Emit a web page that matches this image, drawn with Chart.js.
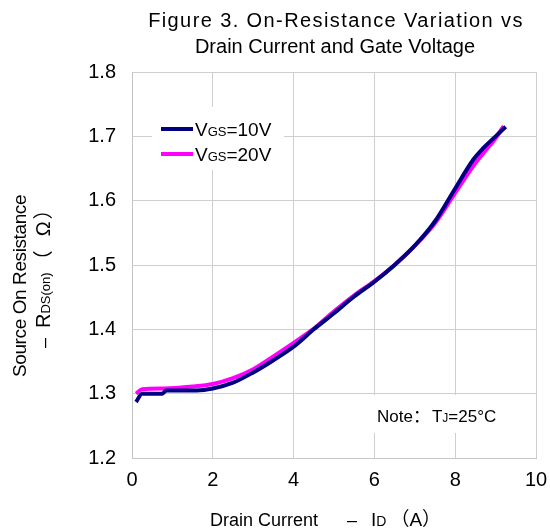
<!DOCTYPE html>
<html>
<head>
<meta charset="utf-8">
<script src="https://cdn.jsdelivr.net/npm/chart.js@4"></script>
<style>
  html, body { margin: 0; padding: 0; background: #fff; }
  #chart { display: block; }
</style>
</head>
<body>
<canvas id="chart" width="550" height="530"></canvas>
<script>
// VGS = 10V curve (drain current A, resistance ohm)
let current10 = [0.1, 0.25, 0.75, 0.85, 1.2, 1.6, 2.0, 2.5, 3.0, 3.5, 4.0, 4.5, 5.0, 5.5, 6.0, 6.5, 7.0, 7.5, 8.0, 8.45, 8.7, 9.0, 9.25];
let rds10 = [1.287, 1.300, 1.300, 1.305, 1.305, 1.305, 1.308, 1.317, 1.333, 1.352, 1.373, 1.400, 1.425, 1.451, 1.474, 1.500, 1.530, 1.568, 1.619, 1.664, 1.682, 1.700, 1.715];

// VGS = 20V curve
let current20 = [0.1, 0.25, 0.8, 1.5, 2.0, 2.5, 3.0, 3.5, 4.0, 4.5, 5.0, 5.5, 6.0, 6.5, 7.0, 7.5, 8.0, 8.45, 8.7, 9.0, 9.2];
let rds20 = [1.300, 1.307, 1.308, 1.311, 1.315, 1.324, 1.338, 1.358, 1.379, 1.401, 1.428, 1.453, 1.475, 1.500, 1.530, 1.565, 1.612, 1.654, 1.674, 1.697, 1.716];

let legendNames = [["V", "GS", "=10V"], ["V", "GS", "=20V"]];
let colors = ["#000080", "#ff00ff"];

const FONT = 'Arial, "Liberation Sans", "Noto Sans CJK SC", sans-serif';

function pts(xs, ys) {
    return xs.map((x, i) => ({ x: x, y: ys[i] }));
}

// draws pieces of text with different sizes on one baseline, a number is a gap
function drawRuns(ctx, runs, x, y, align) {
    let w = 0;
    runs.forEach(r => {
        if (typeof r === "number") { w += r; return; }
        ctx.font = r[1] + "px " + FONT;
        w += ctx.measureText(r[0]).width;
    });
    let cx = align === "center" ? x - w / 2 : x;
    runs.forEach(r => {
        if (typeof r === "number") { cx += r; return; }
        ctx.font = r[1] + "px " + FONT;
        ctx.fillText(r[0], cx, y);
        cx += ctx.measureText(r[0]).width;
    });
}

const extras = {
    id: "extras",
    beforeDatasetsDraw(chart) {
        let ctx = chart.ctx;
        ctx.save();
        ctx.fillStyle = "#fff";
        ctx.fillRect(152, 107, 132, 63);
        ctx.fillRect(366, 395, 164, 38);
        ctx.restore();
    },
    afterDraw(chart) {
        let ctx = chart.ctx;
        ctx.save();
        ctx.fillStyle = "#000";
        ctx.textBaseline = "alphabetic";
        ctx.textAlign = "left";

        // title
        ctx.letterSpacing = "1.4px";
        drawRuns(ctx, [["Figure 3. On-Resistance Variation vs", 20]], 336, 27, "center");
        ctx.letterSpacing = "0px";
        drawRuns(ctx, [["Drain Current and Gate Voltage", 20]], 335, 53, "center");

        // legend
        legendNames.forEach((n, i) => {
            let y = 129 + i * 25;
            ctx.strokeStyle = colors[i];
            ctx.lineWidth = 4;
            ctx.beginPath();
            ctx.moveTo(161, y);
            ctx.lineTo(193, y);
            ctx.stroke();
            drawRuns(ctx, [[n[0], 19], [n[1], 13], [n[2], 19]], 195, y + 7, "left");
        });

        // note
        drawRuns(ctx, [["Note", 17], ["：", 17], 2, ["T", 17], ["J", 12], ["=25°C", 17]], 377, 422, "left");

        // x axis title
        drawRuns(ctx, [["Drain Current", 18], 29, ["–", 18], 14, ["I", 19], ["D", 14], 4, ["（", 19], ["A", 19], ["）", 19]], 210, 526, "left");

        // y axis title
        ctx.save();
        ctx.translate(26, 377);
        ctx.rotate(-Math.PI / 2);
        ctx.letterSpacing = "-0.4px";
        drawRuns(ctx, [["Source On Resistance", 19]], 0, 0, "left");
        ctx.restore();
        ctx.save();
        ctx.translate(50, 348);
        ctx.rotate(-Math.PI / 2);
        drawRuns(ctx, [["–", 18], 10, ["R", 20], ["DS(on)", 13], 2, ["（", 20], 14, ["Ω", 20], 2, ["）", 20]], 0, 0, "left");
        ctx.restore();

        ctx.restore();
    }
};

let ctx = document.getElementById("chart").getContext("2d");
let chart = new Chart(ctx, {
    type: "line",
    data: {
        datasets: [{
            data: pts(current10, rds10),
            borderColor: colors[0],
            borderWidth: 4,
            pointRadius: 0,
            cubicInterpolationMode: "monotone"
        }, {
            data: pts(current20, rds20),
            borderColor: colors[1],
            borderWidth: 4,
            pointRadius: 0,
            cubicInterpolationMode: "monotone"
        }]
    },
    options: {
        responsive: false,
        animation: false,
        layout: { padding: { top: 72, right: 14, left: 0, bottom: 0 } },
        plugins: {
            legend: { display: false },
            title: { display: false },
            tooltip: { enabled: false }
        },
        scales: {
            x: {
                type: "linear",
                min: 0,
                max: 10,
                ticks: { stepSize: 2, color: "#000", padding: 10, font: { size: 20, family: FONT } },
                grid: { color: "#cfcfcf", drawTicks: false },
                border: { color: "#c4c4c4" },
                afterFit(s) {
                    s.height = 72;
                    s.paddingRight = 0;
                    s.paddingLeft = 0;
                }
            },
            y: {
                min: 1.2,
                max: 1.8,
                ticks: {
                    stepSize: 0.1,
                    color: "#000",
                    padding: 16,
                    font: { size: 20, family: FONT },
                    callback: v => v.toFixed(1)
                },
                grid: { color: "#cfcfcf", drawTicks: false },
                border: { color: "#c4c4c4" },
                afterFit(s) { s.width = 132; }
            }
        }
    },
    plugins: [extras]
});
</script>
</body>
</html>
